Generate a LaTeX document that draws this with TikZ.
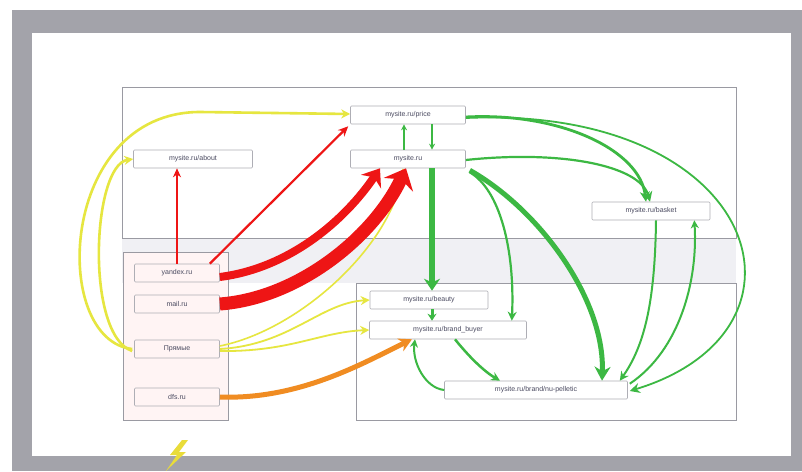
\documentclass[tikz,border=0pt]{standalone}
\usepackage{fontspec}
\setmainfont{Liberation Sans}
\usetikzlibrary{arrows.meta}
\definecolor{frameg}{HTML}{A3A3AA}
\definecolor{lineg}{HTML}{9A9AA2}
\definecolor{bandg}{HTML}{F0F0F4}
\definecolor{pinkf}{HTML}{FFF4F4}
\definecolor{txt}{HTML}{4A4A60}
\definecolor{ylw}{HTML}{E6E640}
\definecolor{rd}{HTML}{EE1515}
\definecolor{org}{HTML}{F08C22}
\definecolor{grn}{HTML}{3CB843}
\tikzset{
  page/.style={draw=lineg, line width=0.8pt},
  pagebox/.style={draw=lineg!80, line width=0.6pt, fill=white, rounded corners=1pt,
    minimum height=18pt, inner sep=1pt, font=\fontsize{7}{8}\selectfont, text=txt},
  srcbox/.style={pagebox, fill=pinkf, minimum width=85pt},
  yarr/.style={draw=ylw, line width=2.6pt, -{Stealth[length=9pt,width=9pt]}},
  rarr/.style={draw=rd, -{Stealth[length=11pt,width=11pt]}},
  oarr/.style={draw=org, line width=5pt, -{Stealth[length=13pt,width=14pt]}},
  garr/.style={draw=grn, -{Stealth[length=8pt,width=8pt]}},
}
\begin{document}
\begin{tikzpicture}[x=1pt,y=-1pt]
\useasboundingbox (0,0) rectangle (802,471);
% background and frame
\fill[white] (0,0) rectangle (802,471);
\fill[frameg] (12,10) rectangle (802,471);
\fill[white] (32,33) rectangle (791,456);
% regions
\fill[bandg] (122,238) rectangle (736,283);
\draw[page] (122,238) -- (122,87) -- (736,87) -- (736,238) -- cycle;
\draw[page] (122,238) -- (736,238);
\draw[page, fill=white] (356,283) rectangle (736,420);
\draw[page, fill=pinkf] (123,252) rectangle (228,420);
% lightning mark
\fill[ylw!90!orange] (182,440) -- (170,455) -- (177,455) -- (166,471) -- (186,452) -- (179,452) -- (188,440) -- cycle;

% nodes
\node[pagebox, minimum width=115pt] (pr) at (408,115) {mysite.ru/price};
\node[pagebox, minimum width=119pt] (ab) at (193,159) {mysite.ru/about};
\node[pagebox, minimum width=115pt] (mn) at (408,159) {mysite.ru};
\node[pagebox, minimum width=118pt] (bk) at (651,211) {mysite.ru/basket};
\node[srcbox] (ya) at (177,273) {yandex.ru};
\node[srcbox] (ml) at (177,304) {mail.ru};
\node[srcbox] (dr) at (177,349) {Прямые};
\node[srcbox] (df) at (177,397) {dfs.ru};
\node[pagebox, minimum width=118pt] (be) at (429,300) {mysite.ru/beauty};
\node[pagebox, minimum width=157pt] (bb) at (448,330) {mysite.ru/brand\_buyer};
\node[pagebox, minimum width=183pt] (bt) at (536,390) {mysite.ru/brand/nu-pelletic};

% yellow
\draw[yarr] ([xshift=-2pt]dr.west) .. controls (50,340) and (58,112) .. (200,112) -- ([yshift=1pt]pr.west);
\draw[yarr] ([xshift=-2pt,yshift=-2pt]dr.west) .. controls (85,335) and (92,165) .. (ab.west);
\draw[yarr, line width=1.6pt] ([yshift=3pt]dr.east) .. controls (300,330) and (392,245) .. ([xshift=-5pt]mn.south);
\draw[yarr, line width=1.8pt] (dr.east) .. controls (290,345) and (320,303) .. (be.west);
\draw[yarr, line width=1.8pt] ([yshift=-2pt]dr.east) .. controls (290,352) and (320,332) .. (bb.west);

% red
\draw[rarr, line width=1.8pt, -{Stealth[length=9pt,width=8pt]}] (ya.north) -- (ab.south -| ya.north);
\draw[rarr, line width=2.2pt, -{Stealth[length=10pt,width=9pt]}] ([xshift=-10pt]ya.north east) -- ([xshift=-2pt,yshift=-2pt]pr.south west);
\draw[rarr, line width=8pt, -{Stealth[length=16pt,width=24pt]}] ([yshift=-4pt]ya.east) .. controls (290,268) and (345,220) .. ([xshift=-28pt]mn.south);
\draw[rarr, line width=13pt, -{Stealth[length=18pt,width=32pt]}] (ml.east) .. controls (300,298) and (375,235) .. ([xshift=-2pt]mn.south);

% orange
\draw[oarr] (df.east) .. controls (300,400) and (365,362) .. ([xshift=-36pt]bb.south);

% green
\draw[garr, line width=1.5pt, -{Stealth[length=6pt,width=6pt]}] ([xshift=-4pt]mn.north) -- ([xshift=-4pt]pr.south);
\draw[garr, line width=1.5pt, -{Stealth[length=6pt,width=6pt]}] ([xshift=24pt]pr.south) -- ([xshift=24pt]mn.north);
\draw[garr, line width=6pt, -{Stealth[length=12pt,width=16pt]}] ([xshift=24pt]mn.south) -- ([xshift=3pt]be.north);
\draw[garr, line width=3pt, -{Stealth[length=7pt,width=9pt]}] ([xshift=3pt]be.south) -- ([xshift=-16pt]bb.north);
\draw[garr, line width=2.8pt, -{Stealth[length=10pt,width=10pt]}] ([yshift=-2pt]pr.east) .. controls (560,112) and (640,150) .. ([xshift=-5pt]bk.north);
\draw[garr, line width=2.2pt, -{Stealth[length=10pt,width=10pt]}] ([yshift=-1pt]mn.east) .. controls (560,150) and (640,165) .. ([xshift=-1pt]bk.north);
\draw[garr, line width=1.8pt, -{Stealth[length=10pt,width=10pt]}] ([yshift=-3pt]pr.east) .. controls (760,105) and (830,330) .. ([xshift=2pt,yshift=-1pt]bt.east);
\draw[garr, line width=2.2pt, -{Stealth[length=9pt,width=9pt]}] ([xshift=4pt,yshift=-4pt]mn.south east) .. controls (500,190) and (515,250) .. ([xshift=-15pt]bb.north east);
\draw[garr, line width=5pt, -{Stealth[length=14pt,width=16pt]}] ([xshift=4pt,yshift=-2pt]mn.south east) .. controls (540,210) and (605,300) .. ([xshift=66pt]bt.north);
\draw[garr, line width=2pt, -{Stealth[length=9pt,width=9pt]}] ([xshift=5pt]bk.south) .. controls (655,300) and (645,345) .. ([xshift=-8pt]bt.north east);
\draw[garr, line width=2pt, -{Stealth[length=8pt,width=8pt]}] ([xshift=2pt,yshift=-3pt]bt.north east) .. controls (680,350) and (698,280) .. ([xshift=-16pt]bk.south east);
\draw[garr, line width=2.5pt, -{Stealth[length=9pt,width=9pt]}] ([xshift=7pt]bb.south) .. controls (470,358) and (485,372) .. ([xshift=-36pt]bt.north);
\draw[garr, line width=2pt, -{Stealth[length=8pt,width=8pt]}] (bt.west) .. controls (425,388) and (412,362) .. ([xshift=-33pt]bb.south);
\end{tikzpicture}
\end{document}
